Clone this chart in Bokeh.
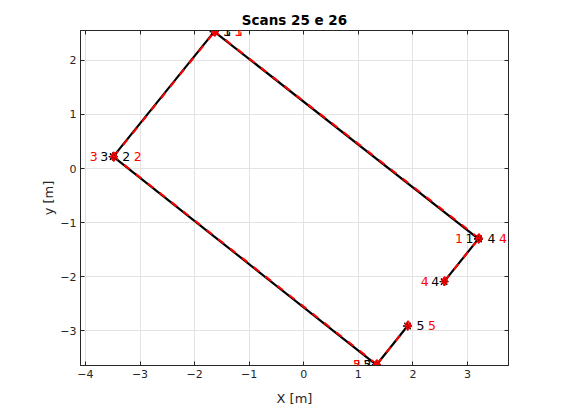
from bokeh.plotting import figure
from bokeh.models import Range1d, LinearAxis, FixedTicker, ColumnDataSource, CustomJSTickFormatter, LabelSet
from bokeh.core.properties import value
from bokeh.embed import file_html
from bokeh.resources import INLINE

# Scan 25 (black) segments: start -> end
s25_id = ["1", "2", "3", "4", "5"]
s25_x0 = [3.20, 1.33, -3.49, 2.57, 1.33]
s25_y0 = [-1.30, -3.63, 0.22, -2.09, -3.63]
s25_x1 = [-1.64, -3.49, -1.64, 3.20, 1.90]
s25_y1 = [2.53, 0.22, 2.53, -1.30, -2.91]

# Scan 26 (red) segments
s26_id = ["1", "2", "3", "4", "5"]
s26_x0 = [3.21, 1.34, -3.48, 2.58, 1.34]
s26_y0 = [-1.29, -3.62, 0.22, -2.08, -3.62]
s26_x1 = [-1.63, -3.48, -1.63, 3.21, 1.91]
s26_y1 = [2.53, 0.22, 2.53, -1.29, -2.90]

x_ticks = [-4, -3, -2, -1, 0, 1, 2, 3]
y_ticks = [-3, -2, -1, 0, 1, 2]

FONT = "DejaVu Sans"
AX = "#262626"

p = figure(width=562, height=408, output_backend="svg", toolbar_location=None,
           x_range=Range1d(-4.09, 3.75), y_range=Range1d(-3.64, 2.55),
           min_border_left=80, min_border_right=54, min_border_top=30, min_border_bottom=40)

p.title.text = "Scans 25 e 26"
p.title.align = "center"
p.title.text_font = FONT
p.title.text_font_size = "13.5px"
p.title.text_font_style = "bold"
p.title.text_color = "#000000"
p.title.standoff = 5

p.outline_line_color = AX
p.outline_line_width = 1
p.background_fill_color = "white"
p.border_fill_color = "white"

for ax, lab, ticks, lstand in ((p.xaxis[0], "X [m]", x_ticks, 10), (p.yaxis[0], "y [m]", y_ticks, 1)):
    ax.ticker = FixedTicker(ticks=ticks)
    ax.axis_label = lab
    ax.axis_label_text_font = FONT
    ax.axis_label_text_font_size = "13px"
    ax.axis_label_text_font_style = "normal"
    ax.axis_label_text_color = AX
    ax.major_label_text_font = FONT
    ax.major_label_text_font_size = "11px"
    ax.major_label_text_color = AX
    ax.axis_line_color = AX
    ax.major_tick_line_color = AX
    ax.major_tick_in = 4
    ax.major_tick_out = 0
    ax.minor_tick_line_color = None
    ax.major_label_standoff = 4
    ax.axis_label_standoff = lstand

for loc, ticks in (("right", y_ticks), ("above", x_ticks)):
    a = LinearAxis(ticker=FixedTicker(ticks=ticks), formatter=CustomJSTickFormatter(code="return ''"),
                   major_tick_in=4, major_tick_out=0, minor_tick_line_color=None,
                   axis_line_color=AX, major_tick_line_color=AX, major_label_standoff=0)
    p.add_layout(a, loc)

p.xgrid.ticker = FixedTicker(ticks=x_ticks)
p.ygrid.ticker = FixedTicker(ticks=y_ticks)
p.grid.grid_line_color = "#e3e3e3"

src25 = ColumnDataSource(dict(id=s25_id, x0=s25_x0, y0=s25_y0, x1=s25_x1, y1=s25_y1))
src26 = ColumnDataSource(dict(id=s26_id, x0=s26_x0, y0=s26_y0, x1=s26_x1, y1=s26_y1))

p.segment("x0", "y0", "x1", "y1", source=src25, line_color="black", line_width=2.2)
p.segment("x0", "y0", "x1", "y1", source=src26, line_color="red", line_width=2, line_dash="7 8")

for xc, yc in (("x0", "y0"), ("x1", "y1")):
    p.scatter(xc, yc, source=src25, marker="asterisk", size=9, line_color="black", line_width=1.3)
    p.scatter(xc, yc, source=src26, marker="diamond", size=9, fill_color=None, line_color="red", line_width=1.2)
    p.scatter(xc, yc, source=src26, marker="asterisk", size=7, line_color="red", line_width=1)

def labels(src, color, off_start, off_end):
    for xc, yc, align, off in (("x0", "y0", "right", off_start), ("x1", "y1", "left", off_end)):
        ls = LabelSet(x=xc, y=yc, text="id", source=src, text_color=color, text_font=value(FONT),
                      text_font_size=value("12.5px"), text_align=align, text_baseline="middle",
                      x_offset=off, y_offset=0)
        p.add_layout(ls)

labels(src25, "black", -5, 9)
labels(src26, "red", -16, 20)

open("out.html", "w").write(file_html(p, INLINE))
